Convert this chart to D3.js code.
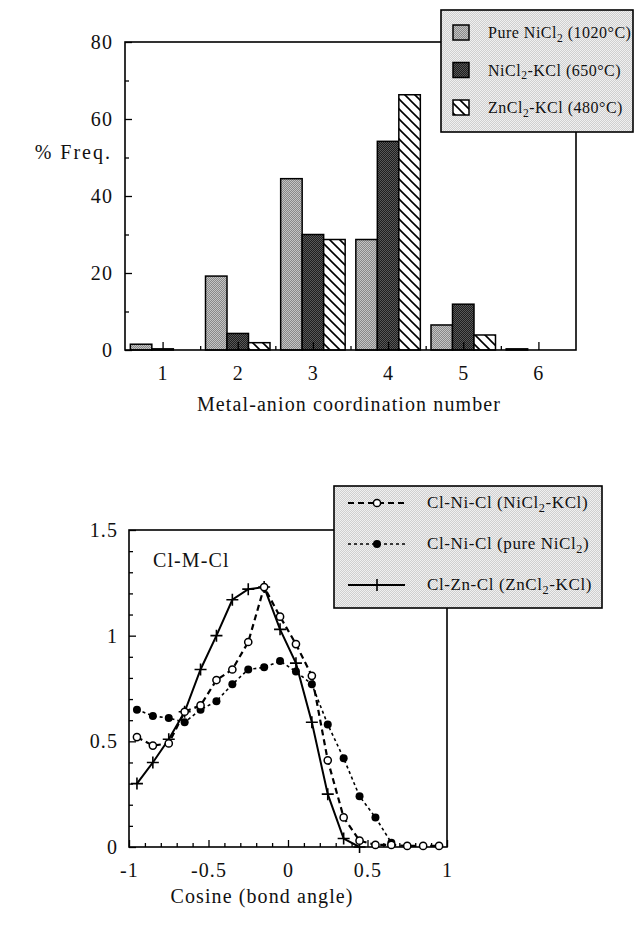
<!DOCTYPE html>
<html>
<head>
<meta charset="utf-8">
<script src="https://cdn.jsdelivr.net/npm/d3@7/dist/d3.min.js"></script>
<style>
  html, body { margin: 0; padding: 0; background: #fff; }
  svg { display: block; }
  text { font-family: "Liberation Serif", "Times New Roman", serif; fill: #111; }
</style>
</head>
<body>
<svg id="fig" width="635" height="925"></svg>
<script>
// ---- Coordination-number histogram ----
const coordNumbers = [1, 2, 3, 4, 5, 6];
const pureNiCl2Freq = [1.5, 19.2, 44.5, 28.7, 6.5, 0.3];
const niCl2KClFreq  = [0.3, 4.3, 30.0, 54.2, 11.9, 0];
const znCl2KClFreq  = [0, 1.9, 28.7, 66.3, 3.9, 0];
const freqTicks = [0, 20, 40, 60, 80];
const freqMinorTicks = [10, 30, 50, 70];

// ---- Bond-angle distributions ----
const cosBins = [-0.95, -0.85, -0.75, -0.65, -0.55, -0.45, -0.35, -0.25, -0.15, -0.05,
                 0.05, 0.15, 0.25, 0.35, 0.45, 0.55, 0.65, 0.75, 0.85, 0.95];
const clNiClKCl  = [0.52, 0.48, 0.49, 0.64, 0.67, 0.79, 0.84, 0.97, 1.23, 1.09,
                    0.96, 0.81, 0.41, 0.14, 0.03, 0.01, 0.01, 0.005, 0.005, 0.005];
const clNiClPure = [0.65, 0.62, 0.61, 0.59, 0.65, 0.69, 0.77, 0.84, 0.85, 0.88,
                    0.83, 0.77, 0.58, 0.42, 0.24, 0.14, 0.02];
const clZnClKCl  = [0.30, 0.40, 0.51, 0.64, 0.84, 1.00, 1.17, 1.22, 1.23, 1.03,
                    0.87, 0.59, 0.25, 0.04, 0.0];
const cosTicks = [-1, -0.5, 0, 0.5, 1];
const cosTickLabels = ["-1", "-0.5", "0", "0.5", "1"];
const angleYTicks = [0, 0.5, 1, 1.5];
const angleYTickLabels = ["0", "0.5", "1", "1.5"];

const svg = d3.select("#fig");
const defs = svg.append("defs");

// stipple / hatch fills
function checker(id, a, b) {
  const p = defs.append("pattern").attr("id", id)
    .attr("patternUnits", "userSpaceOnUse").attr("width", 2).attr("height", 2);
  p.append("rect").attr("width", 2).attr("height", 2).attr("fill", a);
  p.append("rect").attr("width", 1).attr("height", 1).attr("fill", b);
  p.append("rect").attr("x", 1).attr("y", 1).attr("width", 1).attr("height", 1).attr("fill", b);
}
checker("stipLight", "#cfcfcf", "#f0f0f0");
checker("stipMid", "#888", "#c4c4c4");
checker("stipDark", "#1e1e1e", "#585858");
{
  const p = defs.append("pattern").attr("id", "hatch")
    .attr("patternUnits", "userSpaceOnUse").attr("width", 10).attr("height", 10);
  p.append("rect").attr("width", 10).attr("height", 10).attr("fill", "#fff");
  p.append("path").attr("d", "M-1,-1 L11,11 M-6,4 L6,16 M4,-6 L16,6")
    .attr("stroke", "#000").attr("stroke-width", 1.6);
}

const FONT = 20, SPACING = 1.1;

// ================= top chart =================
const T = { left: 125, right: 576, top: 42, bottom: 350 };
const xBar = d3.scaleLinear().domain([0.5, 6.5]).range([T.left, T.right]);
const yFreq = d3.scaleLinear().domain([0, 80]).range([T.bottom, T.top]);
const histG = svg.append("g");

const barSeries = [
  { values: pureNiCl2Freq, fill: "url(#stipMid)" },
  { values: niCl2KClFreq, fill: "url(#stipDark)" },
  { values: znCl2KClFreq, fill: "url(#hatch)" }
];
const bw = (xBar(2) - xBar(1)) * 0.286;
barSeries.forEach((s, si) => {
  histG.append("g").selectAll("rect")
    .data(coordNumbers.map((c, i) => ({ c, v: s.values[i] })).filter(d => d.v > 0))
    .join("rect")
    .attr("x", d => xBar(d.c) - 1.5 * bw + si * bw)
    .attr("y", d => yFreq(d.v))
    .attr("width", bw)
    .attr("height", d => yFreq(0) - yFreq(d.v))
    .attr("fill", s.fill)
    .attr("stroke", "#000").attr("stroke-width", 1.5);
});

// axes (ticks point inward)
const axStyle = g => {
  g.select(".domain").remove();
  g.selectAll("line").attr("stroke", "#000").attr("stroke-width", 1.3);
  g.selectAll("text").attr("font-size", FONT).attr("letter-spacing", SPACING)
    .attr("font-family", "Liberation Serif, serif").attr("fill", "#111");
};
histG.append("g").attr("transform", `translate(${T.left},0)`)
  .call(d3.axisLeft(yFreq).tickValues(freqTicks).tickSize(-7).tickPadding(12).tickFormat(d3.format("d")))
  .call(axStyle);
histG.append("g").attr("transform", `translate(${T.left},0)`)
  .call(d3.axisLeft(yFreq).tickValues(freqMinorTicks).tickSize(-4).tickFormat(""))
  .call(axStyle);
histG.append("g").attr("transform", `translate(0,${T.bottom})`)
  .call(d3.axisBottom(xBar).tickValues(coordNumbers).tickSize(-8).tickPadding(16).tickFormat(d3.format("d")))
  .call(axStyle);
histG.append("g").attr("transform", `translate(0,${T.bottom})`)
  .call(d3.axisBottom(xBar).tickValues(d3.range(1.5, 6, 1)).tickSize(-4).tickFormat(""))
  .call(axStyle);
histG.append("rect").attr("x", T.left).attr("y", T.top)
  .attr("width", T.right - T.left).attr("height", T.bottom - T.top)
  .attr("fill", "none").attr("stroke", "#000").attr("stroke-width", 1.6);

histG.append("text").attr("x", 112).attr("y", 159).attr("text-anchor", "end")
  .attr("font-size", FONT).attr("letter-spacing", 2).text("% Freq.");
histG.append("text").attr("x", 349).attr("y", 411).attr("text-anchor", "middle")
  .attr("font-size", FONT).attr("letter-spacing", SPACING).text("Metal-anion coordination number");

// text with chemical subscripts
function subText(sel, parts, size) {
  let shifted = false;
  parts.forEach(p => {
    const ts = sel.append("tspan").text(p.t);
    if (p.sub) {
      ts.attr("font-size", size * 0.72).attr("dy", size * 0.22);
      shifted = true;
    } else if (shifted) {
      ts.attr("dy", -size * 0.22);
      shifted = false;
    }
  });
}
const lg1 = histG.append("g");
lg1.append("rect").attr("x", 441).attr("y", 10).attr("width", 192).attr("height", 122)
  .attr("fill", "url(#stipLight)").attr("stroke", "#000").attr("stroke-width", 1.6);
const lg1Items = [
  { fill: "url(#stipMid)", parts: [{ t: "Pure NiCl" }, { t: "2", sub: true }, { t: " (1020°C)" }] },
  { fill: "url(#stipDark)", parts: [{ t: "NiCl" }, { t: "2", sub: true }, { t: "-KCl (650°C)" }] },
  { fill: "url(#hatch)", parts: [{ t: "ZnCl" }, { t: "2", sub: true }, { t: "-KCl (480°C)" }] }
];
lg1Items.forEach((it, i) => {
  const y = 25 + i * 37.5;
  lg1.append("rect").attr("x", 453).attr("y", y).attr("width", 16).attr("height", 15)
    .attr("fill", it.fill).attr("stroke", "#000").attr("stroke-width", 1.5);
  const t = lg1.append("text").attr("x", 488).attr("y", y + 13)
    .attr("font-size", 16).attr("letter-spacing", 0.5);
  subText(t, it.parts, 16);
});

// ================= bottom chart =================
const B = { left: 129, right: 447, top: 530, bottom: 847 };
const xCos = d3.scaleLinear().domain([-1, 1]).range([B.left, B.right]);
const yAng = d3.scaleLinear().domain([0, 1.5]).range([B.bottom, B.top]);
const angG = svg.append("g");

angG.append("g").attr("transform", `translate(${B.left},0)`)
  .call(d3.axisLeft(yAng).tickValues(angleYTicks).tickSize(-7).tickPadding(11)
    .tickFormat((d, i) => angleYTickLabels[i]))
  .call(axStyle);
angG.append("g").attr("transform", `translate(${B.left},0)`)
  .call(d3.axisLeft(yAng).tickValues(d3.range(1, 15).filter(k => k % 5).map(k => k / 10)).tickSize(-4).tickFormat(""))
  .call(axStyle);
angG.append("g").attr("transform", `translate(0,${B.bottom})`)
  .call(d3.axisBottom(xCos).tickValues(cosTicks).tickSize(-7).tickPadding(16)
    .tickFormat((d, i) => cosTickLabels[i]))
  .call(axStyle);
angG.append("g").attr("transform", `translate(0,${B.bottom})`)
  .call(d3.axisBottom(xCos).tickValues(d3.range(-9, 10).filter(k => k % 5).map(k => k / 10)).tickSize(-4).tickFormat(""))
  .call(axStyle);
angG.append("rect").attr("x", B.left).attr("y", B.top)
  .attr("width", B.right - B.left).attr("height", B.bottom - B.top)
  .attr("fill", "none").attr("stroke", "#000").attr("stroke-width", 1.6);

angG.append("text").attr("x", 153).attr("y", 567)
  .attr("font-size", FONT).attr("letter-spacing", SPACING).text("Cl-M-Cl");
angG.append("text").attr("x", 262).attr("y", 903).attr("text-anchor", "middle")
  .attr("font-size", FONT).attr("letter-spacing", SPACING).text("Cosine (bond angle)");

const line = d3.line().x(d => xCos(d.x)).y(d => yAng(d.y));
const pts = arr => arr.map((v, i) => ({ x: cosBins[i], y: v }));

// Cl-Zn-Cl: solid line with crosses
const zn = pts(clZnClKCl);
angG.append("path").datum(zn).attr("d", line)
  .attr("fill", "none").attr("stroke", "#000").attr("stroke-width", 2);
angG.append("g").selectAll("path").data(zn).join("path")
  .attr("d", d => `M${xCos(d.x) - 6},${yAng(d.y)}h12M${xCos(d.x)},${yAng(d.y) - 6}v12`)
  .attr("stroke", "#000").attr("stroke-width", 1.6);

// Cl-Ni-Cl pure NiCl2: fine dashes, filled circles
const pure = pts(clNiClPure);
angG.append("path").datum(pure).attr("d", line)
  .attr("fill", "none").attr("stroke", "#000").attr("stroke-width", 1.6)
  .attr("stroke-dasharray", "3,3");
angG.append("g").selectAll("circle").data(pure).join("circle")
  .attr("cx", d => xCos(d.x)).attr("cy", d => yAng(d.y)).attr("r", 4)
  .attr("fill", "#000");

// Cl-Ni-Cl NiCl2-KCl: long dashes, open circles
const kcl = pts(clNiClKCl);
angG.append("path").datum(kcl).attr("d", line)
  .attr("fill", "none").attr("stroke", "#000").attr("stroke-width", 2.2)
  .attr("stroke-dasharray", "6,4");
angG.append("g").selectAll("circle").data(kcl).join("circle")
  .attr("cx", d => xCos(d.x)).attr("cy", d => yAng(d.y)).attr("r", 3.6)
  .attr("fill", "#fff").attr("stroke", "#000").attr("stroke-width", 1.5);

// legend
const lg2 = angG.append("g");
lg2.append("rect").attr("x", 334).attr("y", 486).attr("width", 268).attr("height", 122)
  .attr("fill", "url(#stipLight)").attr("stroke", "#000").attr("stroke-width", 1.6);
const lg2Items = [
  { dash: "6,4", w: 2.2, mark: "open", parts: [{ t: "Cl-Ni-Cl  (NiCl" }, { t: "2", sub: true }, { t: "-KCl)" }] },
  { dash: "3,3", w: 1.6, mark: "filled", parts: [{ t: "Cl-Ni-Cl (pure NiCl" }, { t: "2", sub: true }, { t: ")" }] },
  { dash: null, w: 2, mark: "cross", parts: [{ t: "Cl-Zn-Cl (ZnCl" }, { t: "2", sub: true }, { t: "-KCl)" }] }
];
lg2Items.forEach((it, i) => {
  const y = 503 + i * 41;
  const x0 = 348, x1 = 405, xm = 377;
  const l = lg2.append("line").attr("x1", x0).attr("x2", x1).attr("y1", y).attr("y2", y)
    .attr("stroke", "#000").attr("stroke-width", it.w);
  if (it.dash) l.attr("stroke-dasharray", it.dash);
  if (it.mark === "open") lg2.append("circle").attr("cx", xm).attr("cy", y).attr("r", 3.6)
    .attr("fill", "#fff").attr("stroke", "#000").attr("stroke-width", 1.5);
  if (it.mark === "filled") lg2.append("circle").attr("cx", xm).attr("cy", y).attr("r", 4).attr("fill", "#000");
  if (it.mark === "cross") lg2.append("path").attr("d", `M${xm},${y - 6}v12`)
    .attr("stroke", "#000").attr("stroke-width", 1.6);
  const t = lg2.append("text").attr("x", 427).attr("y", y + 5)
    .attr("font-size", 17).attr("letter-spacing", 0.6);
  subText(t, it.parts, 17);
});
</script>
</body>
</html>
